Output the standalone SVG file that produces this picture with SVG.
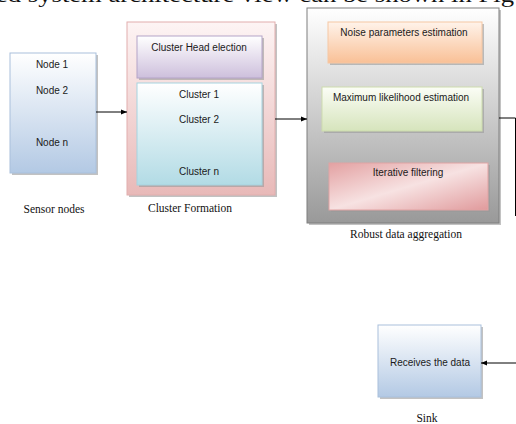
<svg xmlns="http://www.w3.org/2000/svg" width="516" height="424" viewBox="0 0 516 424">
<style>
.lbl{font-family:"Liberation Sans","Open Sans",sans-serif;font-size:10px;fill:#1a1a1a;text-anchor:middle}
.cap{font-family:"Liberation Serif","Times New Roman",serif;font-size:11.5px;fill:#111;text-anchor:middle}
.ln{fill:none;stroke:#000;stroke-width:1}
.sh{fill:#9a9a9a;opacity:0.6}
</style>
<defs>
<linearGradient id="gBlue" x1="0" y1="0" x2="0" y2="1"><stop offset="0" stop-color="#ffffff"/><stop offset="1" stop-color="#b3c9e4"/></linearGradient>
<linearGradient id="gPink" x1="0" y1="0" x2="0" y2="1"><stop offset="0" stop-color="#fdf4f4"/><stop offset="1" stop-color="#e8b9b8"/></linearGradient>
<linearGradient id="gLav" x1="0" y1="0" x2="0" y2="1"><stop offset="0" stop-color="#ffffff"/><stop offset="1" stop-color="#cdbfdc"/></linearGradient>
<linearGradient id="gCyan" x1="0" y1="0" x2="0" y2="1"><stop offset="0" stop-color="#ffffff"/><stop offset="1" stop-color="#b2dbe5"/></linearGradient>
<linearGradient id="gGray" x1="0" y1="0" x2="0" y2="1"><stop offset="0" stop-color="#ffffff"/><stop offset="1" stop-color="#999999"/></linearGradient>
<linearGradient id="gPeach" x1="0" y1="0" x2="0" y2="1"><stop offset="0" stop-color="#fff3ea"/><stop offset="1" stop-color="#f9c096"/></linearGradient>
<linearGradient id="gGreen" x1="0" y1="0" x2="0" y2="1"><stop offset="0" stop-color="#fbfdf6"/><stop offset="1" stop-color="#d6e4bc"/></linearGradient>
<linearGradient id="gRed" x1="0" y1="0" x2="1" y2="1"><stop offset="0" stop-color="#e3a1a2"/><stop offset="0.5" stop-color="#f7e2e2"/><stop offset="1" stop-color="#e09a9c"/></linearGradient>
<marker id="ah" viewBox="0 0 10 10" refX="10" refY="5" markerWidth="6" markerHeight="6" orient="auto"><path d="M0,1 L10,5 L0,9 Z" fill="#000"/></marker>
</defs>
<text x="-4" y="1.5" font-family="Liberation Serif,serif" font-size="21" fill="#111" textLength="518" lengthAdjust="spacingAndGlyphs">ed system architecture view can be shown in Fig</text>

<g id="sensor-nodes">
<rect class="sh" x="12" y="55" width="86" height="120"/>
<rect x="10" y="53" width="86" height="120" fill="url(#gBlue)" stroke="#a9c0dc" stroke-width="1"/>
<text class="lbl" x="52" y="68">Node 1</text>
<text class="lbl" x="52" y="94">Node 2</text>
<text class="lbl" x="52" y="146">Node n</text>
<text class="cap" x="54" y="213">Sensor nodes</text>
</g>

<g id="cluster-formation">
<rect class="sh" x="129" y="24" width="148" height="173"/>
<rect x="127" y="22" width="148" height="173" fill="url(#gPink)" stroke="#e2aeae" stroke-width="1"/>
<g id="cluster-head">
<rect class="sh" x="139" y="38" width="125" height="42"/>
<rect x="137" y="36" width="125" height="42" fill="url(#gLav)" stroke="#b4a4c8" stroke-width="1"/>
<text class="lbl" x="199" y="51">Cluster Head election</text>
</g>
<g id="clusters">
<rect class="sh" x="139" y="85" width="125" height="102"/>
<rect x="137" y="83" width="125" height="102" fill="url(#gCyan)" stroke="#a6d3df" stroke-width="1"/>
<text class="lbl" x="199" y="98">Cluster 1</text>
<text class="lbl" x="199" y="123">Cluster 2</text>
<text class="lbl" x="199" y="175">Cluster n</text>
</g>
<text class="cap" x="190" y="212">Cluster Formation</text>
</g>

<g id="robust-aggregation">
<rect class="sh" x="309" y="10" width="192" height="215"/>
<rect x="307" y="8" width="192" height="215" fill="url(#gGray)" stroke="#7f7f7f" stroke-width="1"/>
<g id="noise">
<rect class="sh" x="330" y="24" width="154" height="41"/>
<rect x="328" y="22" width="154" height="41" fill="url(#gPeach)" stroke="#f6c7a3" stroke-width="1"/>
<text class="lbl" x="404" y="36">Noise parameters estimation</text>
</g>
<g id="mle">
<rect class="sh" x="324" y="89" width="160" height="44"/>
<rect x="322" y="87" width="160" height="44" fill="url(#gGreen)" stroke="#cddcad" stroke-width="1"/>
<text class="lbl" x="401" y="101">Maximum likelihood estimation</text>
</g>
<g id="iterative">
<rect class="sh" x="331" y="165" width="159" height="47"/>
<rect x="329" y="163" width="159" height="47" fill="url(#gRed)" stroke="#e0a3a3" stroke-width="1"/>
<text class="lbl" x="408" y="176">Iterative filtering</text>
</g>
<text class="cap" x="406" y="238">Robust data aggregation</text>
</g>

<g id="sink">
<rect class="sh" x="380" y="327" width="103" height="72"/>
<rect x="378" y="325" width="103" height="72" fill="url(#gBlue)" stroke="#a9c0dc" stroke-width="1"/>
<text class="lbl" x="430" y="366">Receives the data</text>
<text class="cap" x="427" y="422">Sink</text>
</g>

<g id="connectors">
<line class="ln" x1="96" y1="112" x2="127" y2="112" marker-end="url(#ah)"/>
<line class="ln" x1="275" y1="119" x2="307" y2="119" marker-end="url(#ah)"/>
<polyline class="ln" points="499,118 515.5,118 515.5,216"/>
<line class="ln" x1="516" y1="363" x2="481" y2="363" marker-end="url(#ah)"/>
</g>
</svg>
